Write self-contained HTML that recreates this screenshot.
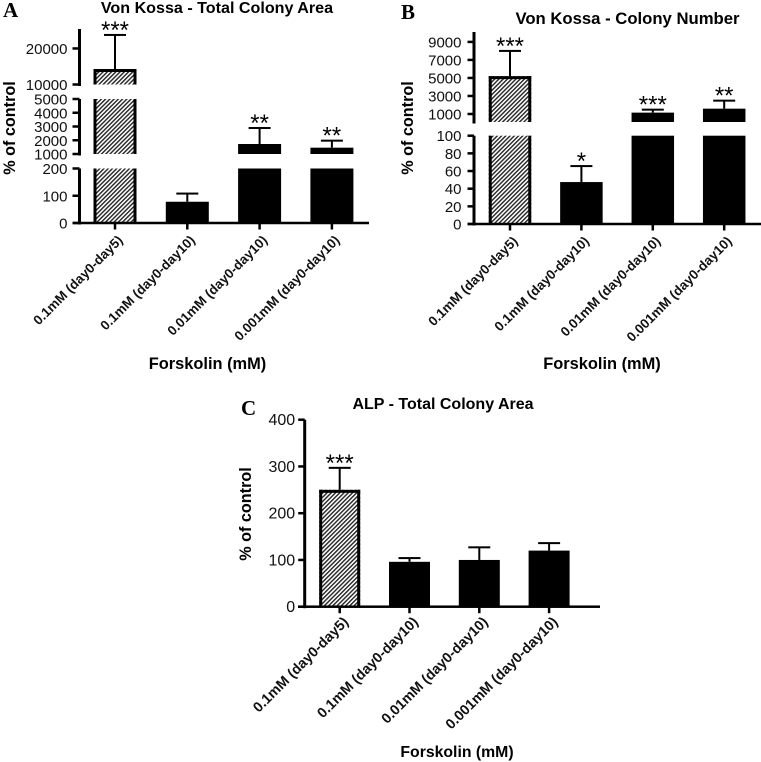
<!DOCTYPE html>
<html lang="en">
<head>
<meta charset="utf-8">
<title>Forskolin colony charts</title>
<style>
html,body{margin:0;padding:0;background:#fff;}
svg{display:block;font-family:"Liberation Sans",sans-serif;}
.ttl{font-weight:bold;text-anchor:middle;}
.axt{font-weight:bold;font-size:16.2px;text-anchor:middle;}
.ltr{font-family:"Liberation Serif",serif;font-weight:bold;font-size:21px;}
</style>
</head>
<body>
<svg id="fig" width="761" height="762" viewBox="0 0 761 762" xmlns="http://www.w3.org/2000/svg">
<defs>
<pattern id="hatch" patternUnits="userSpaceOnUse" width="3" height="3" patternTransform="rotate(45)">
<rect width="3" height="3" fill="#fff"/>
<rect width="1.4" height="3" fill="#222"/>
</pattern>
</defs>
<rect width="761" height="762" fill="#fff"/>

<text class="ltr" x="3" y="17">A</text>
<text class="ttl" x="217" y="13" font-size="16.1">Von Kossa - Total Colony Area</text>
<text class="axt" transform="translate(15,128) rotate(-90)">% of control</text>
<text class="axt" x="207.5" y="369" font-size="16" style="font-size:16.4px">Forskolin (mM)</text>

<text class="ltr" x="401" y="19">B</text>
<text class="ttl" x="627.5" y="24" font-size="16.7">Von Kossa - Colony Number</text>
<text class="axt" transform="translate(413,128) rotate(-90)">% of control</text>
<text class="axt" x="602" y="369" style="font-size:16.4px">Forskolin (mM)</text>

<text class="ltr" x="241" y="415">C</text>
<text class="ttl" x="443" y="409" font-size="16">ALP - Total Colony Area</text>
<text class="axt" transform="translate(251,514) rotate(-90)">% of control</text>
<text class="axt" x="457" y="757" style="font-size:15.8px">Forskolin (mM)</text>
</svg>

<script>
// ---- data ----
const categoriesAB = ['0.1mM (day0-day5)', '0.1mM (day0-day10)', '0.01mM (day0-day10)', '0.001mM (day0-day10)'];
const categoriesC = ['0.1mM (day0-day5)', '0.1mM (day0-day10)', '0.01mM (day0-day10)', '0.001mM (day0-day10)'];

const areaValues = [14300, 78, 1727, 1460];
const areaErrorTops = [23750, 108, 2890, 1970];
const areaStars = ['***', '', '**', '**'];
const areaTicks = [0, 100, 200, 1000, 2000, 3000, 4000, 5000, 10000, 20000];
const areaDomains = [[0, 200], [1000, 5000], [10000, 25400]];

const numberValues = [5200, 47.5, 1150, 1590];
const numberErrorTops = [8000, 65.6, 1480, 2480];
const numberStars = ['***', '*', '***', '**'];
const numberTicks = [0, 20, 40, 60, 80, 100, 1000, 3000, 5000, 7000, 9000];
const numberDomains = [[0, 100], [110, 10100]];

const alpValues = [250, 96, 100, 120];
const alpErrorTops = [297, 104, 127, 136];
const alpStars = ['***', '', '', ''];
const alpTicks = [0, 100, 200, 300, 400];
const alpDomains = [[0, 400]];

// ---- layout ----
const NS = 'http://www.w3.org/2000/svg';
const fig = document.getElementById('fig');

function shape(tag, attrs, parent) {
  const el = document.createElementNS(NS, tag);
  for (const k in attrs) el.setAttribute(k, attrs[k]);
  parent.appendChild(el);
  return el;
}

function makeYScale(domains, bands) {
  return function (v) {
    for (let i = 0; i < domains.length; i++) {
      const d = domains[i], b = bands[i];
      if (v <= d[1] || i === domains.length - 1) {
        return b[0] + (v - d[0]) / (d[1] - d[0]) * (b[1] - b[0]);
      }
      const next = domains[i + 1];
      if (v < next[0]) return b[1];
    }
  };
}

function drawPanel(p) {
  const g = shape('g', {}, fig);
  
  
  const y = makeYScale(p.domains, p.bands);
  const x = function (i) { return p.x0 + i * p.step; };

  // bars
  p.values.forEach(function (val, i) {
    const cx = x(i);
    const left = cx - p.barW / 2;
    const hatched = i === 0;
    const bar = shape('g', {}, g);
    
    
    p.domains.forEach(function (d) {
      if (val <= d[0]) return;
      const top = y(Math.min(val, d[1]));
      const bottom = y(d[0]);
      shape('rect', { x: left, y: top, width: p.barW, height: bottom - top, fill: hatched ? 'url(#hatch)' : '#000' }, bar);
      if (hatched) {
        shape('rect', { x: left, y: top, width: 3, height: bottom - top, fill: '#000' }, bar);
        shape('rect', { x: left + p.barW - 3, y: top, width: 3, height: bottom - top, fill: '#000' }, bar);
        if (val <= d[1]) shape('rect', { x: left, y: top, width: p.barW, height: 3, fill: '#000' }, bar);
      }
    });

    // error bar
    const errTop = y(p.errors[i]);
    const err = shape('g', {}, g);
    
    
    shape('rect', { x: cx - 1, y: errTop, width: 2, height: y(val) - errTop, fill: '#000' }, err);
    shape('rect', { x: cx - 11, y: errTop - 1, width: 22, height: 2, fill: '#000' }, err);

    // significance marker
    if (p.stars[i]) {
      const s = shape('text', { x: cx, y: errTop + 3, 'text-anchor': 'middle', 'font-size': 24, fill: '#000' }, g);
      
      
      s.textContent = p.stars[i];
    }

    // x tick and label
    const tick = shape('rect', { x: cx - 1.25, y: p.base, width: 2.5, height: 6.5, fill: '#000' }, g);
    
    
    const lx = cx + p.labelDx, ly = p.base + p.labelDy;
    const lab = shape('text', { transform: 'translate(' + lx + ',' + ly + ') rotate(-45)', 'text-anchor': 'end', 'font-size': p.labelSize, 'font-weight': 'bold', fill: '#111' }, g);
    
    
    lab.textContent = p.categories[i];
  });

  // y axis segments
  p.bands.forEach(function (b) {
    const seg = shape('rect', { x: p.axisX - 1.5, y: b[1], width: 3, height: b[0] - b[1] + 1.5, fill: '#000' }, g);
    
    
  });

  // y ticks
  p.ticks.forEach(function (t) {
    const py = y(t);
    const tk = shape('rect', { x: p.axisX - p.tickLen, y: py - 1.25, width: p.tickLen, height: 2.5, fill: '#000' }, g);
    
    
    const tl = shape('text', { x: p.axisX - p.tickLen - p.tickGap, y: py + 5.5, 'text-anchor': 'end', 'font-size': p.tickSize, fill: '#111' }, g);
    
    
    tl.textContent = t;
  });

  // x axis
  const xa = shape('rect', { x: p.xStart, y: p.base - 1.25, width: p.xEnd - p.xStart, height: 2.5, fill: '#000' }, g);
  
  
}

drawPanel({
  name: 'panel-a', categories: categoriesAB, values: areaValues, errors: areaErrorTops, stars: areaStars,
  ticks: areaTicks, domains: areaDomains, bands: [[223, 168.5], [154, 99], [84.5, 29]],
  x0: 115, step: 72.3, barW: 43, axisX: 79.5, base: 223, xStart: 73, xEnd: 369,
  tickLen: 7, tickGap: 5, tickSize: 15, labelSize: 13.4, labelDx: 8.5, labelDy: 18
});
drawPanel({
  name: 'panel-b', categories: categoriesAB, values: numberValues, errors: numberErrorTops, stars: numberStars,
  ticks: numberTicks, domains: numberDomains, bands: [[224, 135.7], [122, 32]],
  x0: 510, step: 71.4, barW: 42.5, axisX: 474, base: 224, xStart: 468, xEnd: 761,
  tickLen: 6.5, tickGap: 6, tickSize: 15, labelSize: 13.4, labelDx: 8.5, labelDy: 18
});
drawPanel({
  name: 'panel-c', categories: categoriesC, values: alpValues, errors: alpErrorTops, stars: alpStars,
  ticks: alpTicks, domains: alpDomains, bands: [[606.7, 419.7]],
  x0: 339.7, step: 69.8, barW: 41, axisX: 304.7, base: 606.7, xStart: 298, xEnd: 600,
  tickLen: 6.5, tickGap: 3, tickSize: 16, labelSize: 14.3, labelDx: 9.5, labelDy: 16
});
</script>
</body>
</html>
